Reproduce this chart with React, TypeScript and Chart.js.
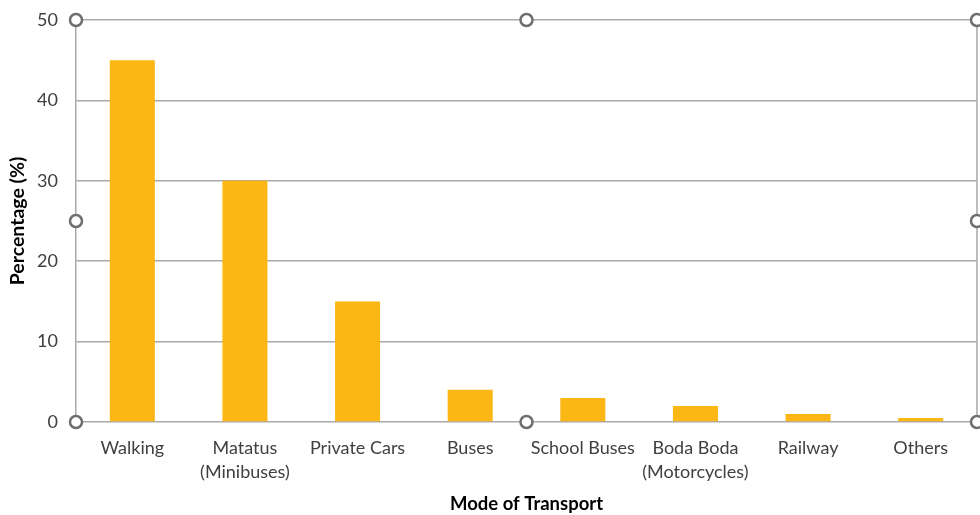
import { useEffect, useRef } from "react";
import { Chart, registerables } from "chart.js";

Chart.register(...registerables);

// Share of trips by mode of transport (%)
const categories: string[][] = [
  ["Walking"],
  ["Matatus", "(Minibuses)"],
  ["Private Cars"],
  ["Buses"],
  ["School Buses"],
  ["Boda Boda", "(Motorcycles)"],
  ["Railway"],
  ["Others"],
];
const shares = [45, 30, 15, 4, 3, 2, 1, 0.5];
const yMin = 0;
const yMax = 50;
const yStep = 10;

const FONT = "Lato, 'Open Sans', sans-serif";
const GRID = "#a9a9a9";

// Frame with round handles around the plot area
const selectionFrame = {
  id: "selectionFrame",
  afterDraw(chart: Chart) {
    const { ctx } = chart;
    const { left, right, top, bottom } = chart.chartArea;
    ctx.save();
    ctx.strokeStyle = GRID;
    ctx.lineWidth = 1.5;
    ctx.beginPath();
    ctx.moveTo(right, top);
    ctx.lineTo(right, bottom);
    ctx.stroke();
    const midX = (left + right) / 2;
    const midY = (top + bottom) / 2;
    const pts = [
      [left, top], [midX, top], [right, top],
      [left, midY], [right, midY],
      [left, bottom], [midX, bottom], [right, bottom],
    ];
    ctx.fillStyle = "#ffffff";
    ctx.strokeStyle = "#6e6e6e";
    ctx.lineWidth = 2.5;
    for (const [x, y] of pts) {
      ctx.beginPath();
      ctx.arc(x, y, 6, 0, Math.PI * 2);
      ctx.fill();
      ctx.stroke();
    }
    ctx.restore();
  },
};

export default function App() {
  const canvasRef = useRef<HTMLCanvasElement | null>(null);

  useEffect(() => {
    document.body.style.margin = "0";
    const canvas = canvasRef.current;
    if (!canvas) return;
    const chart = new Chart(canvas, {
      type: "bar",
      data: {
        labels: categories,
        datasets: [
          {
            data: shares,
            backgroundColor: "#fcb714",
            borderWidth: 0,
            categoryPercentage: 1,
            barPercentage: 0.4,
          },
        ],
      },
      options: {
        animation: false,
        responsive: true,
        maintainAspectRatio: false,
        layout: { padding: { top: 20, right: 3, left: 0, bottom: 0 } },
        plugins: {
          legend: { display: false },
          tooltip: { enabled: false },
        },
        scales: {
          x: {
            grid: { display: false, drawTicks: false },
            border: { display: false },
            ticks: {
              color: "#404040",
              padding: 14,
              maxRotation: 0,
              autoSkip: false,
              font: { family: FONT, size: 18, lineHeight: 1.33 },
            },
            title: {
              display: true,
              text: "Mode of Transport",
              color: "#000000",
              font: { family: FONT, size: 18.5, weight: "bold" },
              padding: { top: 0, bottom: 0 },
            },
            afterFit(scale: any) {
              scale.height = 93;
            },
          },
          y: {
            min: yMin,
            max: yMax,
            ticks: {
              stepSize: yStep,
              color: "#404040",
              padding: 18,
              font: { family: FONT, size: 18 },
            },
            grid: { color: GRID, lineWidth: 1.5, drawTicks: false },
            border: { display: true, color: GRID, width: 1.5 },
            title: {
              display: true,
              text: "Percentage (%)",
              color: "#000000",
              font: { family: FONT, size: 19.5, weight: "bold" },
              padding: { top: 6, bottom: 0 },
            },
            afterFit(scale: any) {
              scale.width = 76;
              scale.paddingTop = 0;
              scale.paddingBottom = 0;
            },
          },
        },
      },
      plugins: [selectionFrame],
    });
    return () => chart.destroy();
  }, []);

  return (
    <div style={{ position: "fixed", left: 0, top: 0, width: 980, height: 515 }}>
      <canvas ref={canvasRef} />
    </div>
  );
}
